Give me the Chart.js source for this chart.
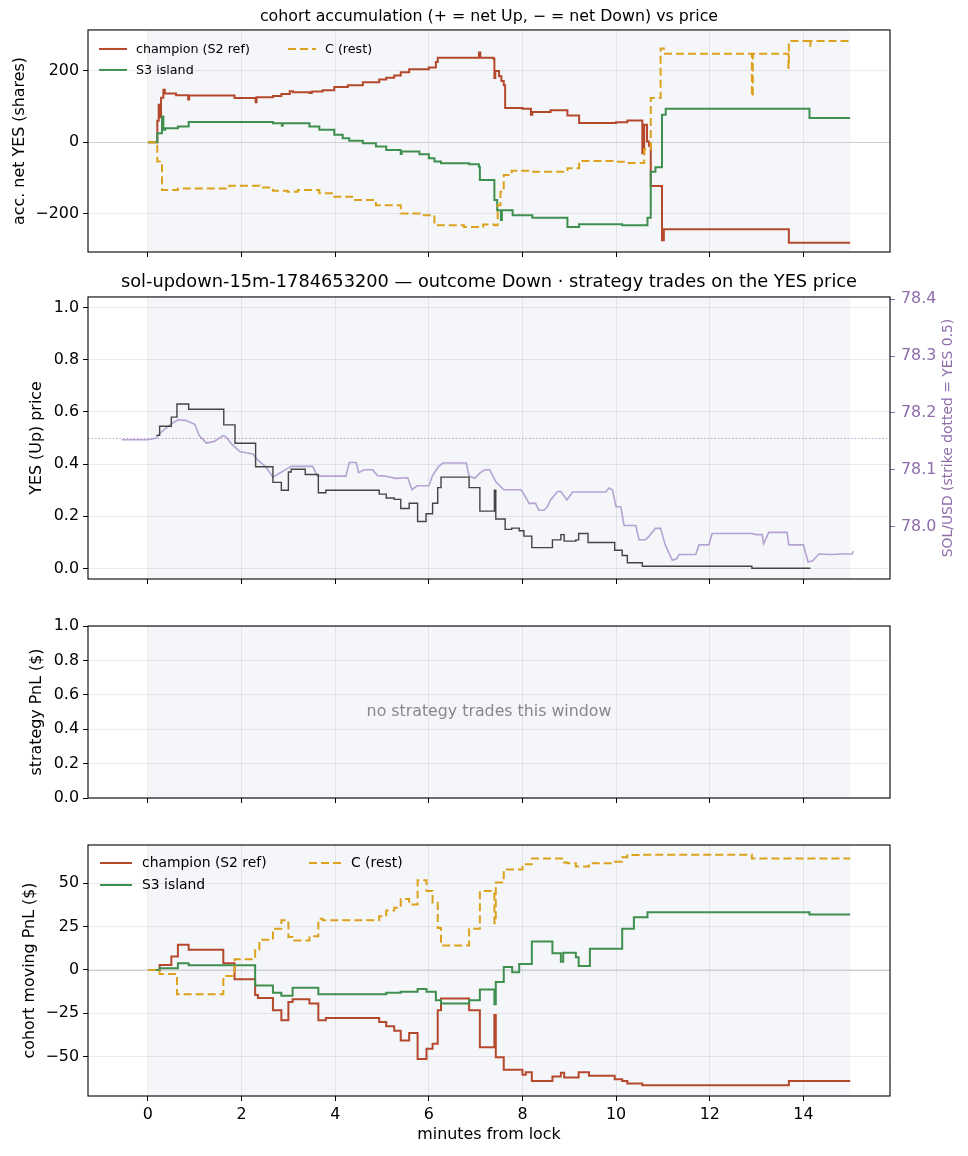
<!DOCTYPE html>
<html>
<head>
<meta charset="utf-8">
<script src="https://cdn.jsdelivr.net/npm/chart.js@4.4.1/dist/chart.umd.min.js"></script>
<style>
html, body { margin: 0; padding: 0; background: #fff; }
#fig { position: relative; width: 968px; height: 1156px; }
#fig canvas { position: absolute; left: 0; }
</style>
</head>
<body>
<div id="fig">
  <canvas id="acc" width="968" height="274" style="top:0px"></canvas>
  <canvas id="price" width="968" height="339" style="top:262px"></canvas>
  <canvas id="strat" width="968" height="220" style="top:600px"></canvas>
  <canvas id="pnl" width="968" height="336" style="top:820px"></canvas>
</div>
<script>
// ---- data (minutes from lock, value) ----
const xTicks = [0, 2, 4, 6, 8, 10, 12, 14];
const accTicks = [-200, 0, 200];
const yesTicks = [0, 0.2, 0.4, 0.6, 0.8, 1.0];
const solTicks = [78.0, 78.1, 78.2, 78.3, 78.4];
const stratTicks = [0, 0.2, 0.4, 0.6, 0.8, 1.0];
const pnlTicks = [-50, -25, 0, 25, 50];
const cohortLabels = ['champion (S2 ref)', 'S3 island', 'C (rest)'];
const windowSpan = [0, 15];
const STRIKE = 78.156;

const champAcc = [[0,0],[0.18,0],[0.2,60],[0.23,105],[0.26,70],[0.28,125],[0.33,147],[0.36,137],[0.6,132],[0.86,120],[0.88,131],
  [1.85,124],[2.3,112],[2.32,126],[2.67,130],[2.85,135],[3.03,143],[3.1,140],[3.45,138],[3.5,142],[3.73,146],[3.98,155],
  [4.27,160],[4.59,168],[4.94,176],[5.09,181],[5.26,187],[5.4,196],[5.58,205],[6.0,210],[6.15,225],[6.19,237],[7.05,237],
  [7.07,252],[7.1,237],[7.38,234],[7.4,180],[7.42,200],[7.5,185],[7.55,172],[7.6,160],[7.63,96],[8.0,94],[8.18,77],[8.21,85],
  [8.6,90],[8.96,75],[9.21,54],[10.0,56],[10.24,61],[10.56,-31],[10.6,49],[10.66,2],[10.7,-10],[10.74,-123],[10.98,-275],
  [11.02,-244],[13.69,-282],[15.0,-282]];
const s3Acc = [[0,0],[0.18,0],[0.2,25],[0.3,72],[0.33,35],[0.37,39],[0.64,44],[0.87,57],[2.67,53],[2.86,46],[2.88,53],
  [3.13,53],[3.45,44],[3.66,35],[3.98,21],[4.16,11],[4.3,4],[4.59,-3],[4.87,-12],[5.09,-22],[5.4,-33],[5.42,-26],[5.8,-34],
  [6.0,-45],[6.12,-54],[6.26,-59],[6.86,-62],[7.07,-69],[7.09,-106],[7.4,-162],[7.46,-191],[7.54,-218],[7.56,-191],[7.79,-205],
  [8.21,-212],[8.96,-238],[9.21,-230],[10.13,-233],[10.67,-212],[10.74,-83],[10.84,-70],[10.98,77],[11.06,94],[14.13,68],[15.0,68]];
const restAcc = [[0,0],[0.18,0],[0.2,-54],[0.3,-134],[0.64,-130],[1.74,-122],[2.38,-127],[2.67,-136],[2.98,-139],[3.2,-134],
  [3.66,-143],[3.93,-153],[4.36,-162],[4.87,-177],[5.4,-200],[5.8,-205],[6.12,-233],[6.75,-238],[7.16,-231],[7.4,-233],
  [7.47,-177],[7.53,-139],[7.6,-92],[7.77,-80],[8.18,-83],[8.96,-73],[9.21,-53],[10.0,-55],[10.24,-58],[10.6,-20],[10.74,124],
  [10.95,263],[11.02,248],[12.88,248],[12.9,129],[12.92,248],[13.68,209],[13.69,284],[14.13,270],[14.15,284],[15.0,284]];

const yesPrice = [[0.18,0.51],[0.25,0.545],[0.5,0.58],[0.62,0.63],[0.87,0.61],[1.62,0.55],[1.86,0.48],[2.3,0.39],[2.67,0.33],
  [2.85,0.30],[3.0,0.37],[3.06,0.38],[3.36,0.36],[3.64,0.29],[3.8,0.30],[4.94,0.285],[5.09,0.27],[5.26,0.265],[5.4,0.23],
  [5.58,0.25],[5.76,0.18],[5.94,0.21],[6.08,0.25],[6.19,0.31],[6.26,0.35],[6.86,0.31],[7.09,0.22],[7.4,0.30],[7.43,0.19],
  [7.63,0.15],[7.77,0.155],[7.93,0.145],[8.03,0.124],[8.2,0.08],[8.64,0.11],[8.82,0.13],[8.89,0.105],[9.14,0.11],[9.2,0.134],
  [9.4,0.10],[9.97,0.07],[10.13,0.05],[10.24,0.022],[10.56,0.009],[12.9,0.001],[14.15,0.001]];
const solPrice = [[-0.56,78.153],[0.0,78.153],[0.18,78.156],[0.25,78.164],[0.47,78.179],[0.64,78.188],[0.8,78.187],[1.0,78.18],
  [1.1,78.16],[1.25,78.147],[1.42,78.15],[1.6,78.16],[1.67,78.158],[1.78,78.146],[1.96,78.132],[2.24,78.128],[2.35,78.117],
  [2.52,78.105],[2.67,78.087],[2.93,78.1],[3.06,78.106],[3.52,78.106],[3.62,78.089],[4.23,78.089],[4.3,78.113],[4.45,78.113],
  [4.5,78.095],[4.62,78.1],[4.8,78.1],[4.9,78.09],[5.05,78.089],[5.3,78.085],[5.55,78.086],[5.64,78.065],[5.75,78.072],
  [6.0,78.072],[6.08,78.09],[6.2,78.105],[6.3,78.112],[6.8,78.112],[6.86,78.089],[6.98,78.085],[7.1,78.095],[7.2,78.1],
  [7.3,78.1],[7.43,78.079],[7.6,78.065],[7.97,78.065],[8.04,78.056],[8.14,78.041],[8.28,78.041],[8.35,78.029],[8.46,78.029],
  [8.53,78.035],[8.6,78.047],[8.75,78.062],[8.82,78.062],[8.95,78.047],[9.07,78.061],[9.78,78.061],[9.85,78.068],[9.92,78.065],
  [10.0,78.035],[10.1,78.035],[10.17,78.002],[10.42,78.002],[10.49,77.977],[10.63,77.977],[10.7,77.983],[10.84,77.997],
  [10.95,77.997],[11.05,77.968],[11.2,77.941],[11.3,77.944],[11.34,77.951],[11.7,77.951],[11.77,77.968],[11.98,77.968],
  [12.05,77.988],[12.9,77.988],[13.0,77.986],[13.12,77.986],[13.15,77.97],[13.26,77.99],[13.65,77.99],[13.69,77.968],
  [14.0,77.968],[14.1,77.938],[14.2,77.94],[14.33,77.952],[14.6,77.951],[14.8,77.952],[15.04,77.952],[15.07,77.957]];

const champPnl = [[0,0],[0.25,2.9],[0.5,7.8],[0.64,14.5],[0.87,11.6],[1.61,3.9],[1.85,-5.4],[2.29,-14.5],[2.35,-16.1],
  [2.67,-23.3],[2.85,-29],[3.0,-18.4],[3.09,-16.9],[3.45,-19.4],[3.64,-29],[3.8,-27.7],[4.94,-30],[5.09,-32.4],[5.26,-35],
  [5.4,-40.7],[5.58,-36.4],[5.76,-51.4],[5.95,-45.5],[6.08,-42.6],[6.19,-23.3],[6.26,-16.5],[6.86,-23.3],[7.09,-44.6],
  [7.4,-26],[7.43,-50.4],[7.6,-57.6],[8.0,-60.5],[8.07,-59],[8.2,-64],[8.64,-61.4],[8.82,-59.3],[8.89,-62],[9.2,-59],
  [9.42,-61],[9.97,-63],[10.13,-64],[10.24,-65.5],[10.56,-66.5],[13.69,-64],[15.0,-64]];
const s3Pnl = [[0,0],[0.25,1],[0.64,3.9],[0.87,2.7],[2.29,-8.9],[2.67,-13.2],[2.85,-14.9],[3.09,-10.3],[3.64,-14],
  [5.09,-13.2],[5.4,-12.6],[5.76,-11],[5.95,-12.6],[6.15,-17.4],[6.26,-19.4],[6.86,-17.4],[7.09,-11.2],[7.4,-19.8],
  [7.43,-7],[7.6,1.7],[7.78,-1.3],[7.93,3.5],[8.2,16.5],[8.64,9.7],[8.82,4.8],[8.87,10],[9.14,7.4],[9.2,2.3],[9.44,12.2],
  [10.13,23.8],[10.38,30.4],[10.67,33.3],[14.13,32],[15.0,32]];
const restPnl = [[0,0],[0.25,-2.3],[0.62,-14],[1.61,-3.5],[1.85,6.2],[2.29,11.6],[2.38,17.4],[2.67,23.8],[2.85,28.7],
  [3.0,19],[3.09,17],[3.45,19.4],[3.64,29.5],[3.73,28.7],[4.94,31],[5.09,34.3],[5.26,35.9],[5.4,41],[5.58,37.8],
  [5.76,51.7],[5.95,45.5],[6.08,38.8],[6.19,24.2],[6.26,14.1],[6.86,23.8],[7.09,45.5],[7.4,27],[7.43,50.4],[7.6,58],
  [8.0,60],[8.07,61],[8.2,64.3],[8.89,62],[8.96,61.6],[9.14,59.7],[9.42,61.6],[9.97,62.4],[10.13,65],[10.24,66.3],
  [10.56,66.5],[12.9,64.3],[15.0,64.3]];

// ---- style ----
const FONT = '"DejaVu Sans", sans-serif';
const FS = 15.9;
const RED = '#b5482b', GREEN = '#3f8f4f', GOLD = '#dca11d';
const PURPLE = '#8e6dab';
const GRID = 'rgba(0,0,0,0.075)';
const SHADE = '#f4f6fa';
Chart.defaults.font.family = FONT;
Chart.defaults.font.size = FS;
Chart.defaults.color = '#000';
Chart.defaults.animation = false;

const pts = arr => arr.map(([x, y]) => ({x, y}));
const minus = v => (v < 0 ? '\u2212' + Math.abs(v) : String(v));

// shaded window, reference lines, frame, inset legend, notes
const decor = {
  id: 'decor',
  beforeDraw(chart, args, o) {
    const {ctx, chartArea: a, scales} = chart;
    const x0 = Math.max(a.left, scales.x.getPixelForValue(o.shade[0]));
    const x1 = Math.min(a.right, scales.x.getPixelForValue(o.shade[1]));
    ctx.save();
    ctx.fillStyle = SHADE;
    ctx.fillRect(x0, a.top, x1 - x0, a.bottom - a.top);
    ctx.restore();
  },
  beforeDatasetsDraw(chart, args, o) {
    const {ctx, chartArea: a, scales} = chart;
    ctx.save();
    if (o.zero) {
      const y = Math.round(scales.y.getPixelForValue(0)) + 0.5;
      ctx.strokeStyle = '#cfcfcf'; ctx.lineWidth = 1;
      ctx.beginPath(); ctx.moveTo(a.left, y); ctx.lineTo(a.right, y); ctx.stroke();
    }
    if (o.strike) {
      const y = Math.round(scales.y1.getPixelForValue(o.strike)) + 0.5;
      ctx.strokeStyle = 'rgba(142,109,171,0.6)'; ctx.lineWidth = 1; ctx.setLineDash([1.5, 2]);
      ctx.beginPath(); ctx.moveTo(a.left, y); ctx.lineTo(a.right, y); ctx.stroke();
    }
    ctx.restore();
  },
  afterDraw(chart, args, o) {
    const {ctx, chartArea: a} = chart;
    ctx.save();
    ctx.strokeStyle = '#000'; ctx.lineWidth = 1.1;
    ctx.strokeRect(a.left, a.top, a.right - a.left, a.bottom - a.top);
    if (o.note) {
      ctx.fillStyle = '#888'; ctx.font = '15.8px ' + FONT;
      ctx.textAlign = 'center'; ctx.textBaseline = 'middle';
      ctx.fillText(o.note, (a.left + a.right) / 2, (a.top + a.bottom) / 2);
    }
    if (o.rightTitle) {
      ctx.fillStyle = PURPLE; ctx.font = '13.9px ' + FONT;
      ctx.textAlign = 'center'; ctx.textBaseline = 'middle';
      ctx.translate(o.rightTitleX, (a.top + a.bottom) / 2);
      ctx.rotate(-Math.PI / 2);
      ctx.fillText(o.rightTitle, 0, 0);
      ctx.setTransform(1, 0, 0, 1, 0, 0);
    }
    if (o.legend) {
      const L = o.legend;
      ctx.font = L.size + 'px ' + FONT;
      ctx.textBaseline = 'middle'; ctx.textAlign = 'left';
      chart.data.datasets.forEach((ds, i) => {
        const col = Math.floor(i / 2), row = i % 2;
        const x = a.left + L.x + col * L.colW;
        const y = a.top + L.y + row * L.rowH;
        ctx.strokeStyle = ds.borderColor; ctx.lineWidth = ds.borderWidth;
        ctx.setLineDash(ds.borderDash || []);
        ctx.beginPath(); ctx.moveTo(x, y); ctx.lineTo(x + L.len, y); ctx.stroke();
        ctx.setLineDash([]);
        ctx.fillStyle = '#000';
        ctx.fillText(ds.label, x + L.textOff, y + 0.5);
      });
    }
    ctx.restore();
  }
};

function xScale(height, labels) {
  return {
    type: 'linear', min: -1.28, max: 15.85,
    afterBuildTicks: s => { s.ticks = xTicks.map(v => ({value: v})); },
    afterFit: s => { s.height = height; },
    grid: {color: GRID, tickColor: '#000', tickLength: 5},
    border: {display: false},
    ticks: {display: labels, padding: 4, maxRotation: 0, autoSkip: false},
    title: {display: labels, text: 'minutes from lock', padding: {top: 0, bottom: 11.5}}
  };
}
function yScale(min, max, ticks, fmt, title, titleX) {
  return {
    type: 'linear', position: 'left', min, max,
    afterBuildTicks: s => { s.ticks = ticks.map(v => ({value: v})); },
    afterFit: s => { s.width = 88; },
    grid: {color: GRID, tickColor: '#000', tickLength: 5},
    border: {display: false},
    ticks: {padding: 4, autoSkip: false, callback: fmt},
    title: {display: true, text: title, padding: {top: titleX - FS * 0.6, bottom: 0}}
  };
}
function cohortSets(c, s, r) {
  const base = {stepped: true, pointRadius: 0, borderWidth: 2, fill: false};
  return [
    Object.assign({label: cohortLabels[0], data: pts(c), borderColor: RED, order: 3}, base),
    Object.assign({label: cohortLabels[1], data: pts(s), borderColor: GREEN, order: 2}, base),
    Object.assign({label: cohortLabels[2], data: pts(r), borderColor: GOLD, borderDash: [8, 4], order: 1}, base)
  ];
}

// panel 1: cohort accumulation
new Chart(document.getElementById('acc'), {
  type: 'line',
  data: {datasets: cohortSets(champAcc, s3Acc, restAcc)},
  options: {
    responsive: false,
    layout: {padding: {left: 0, right: 78, top: 0, bottom: 0}},
    scales: {x: xScale(22, false), y: yScale(-308, 315, accTicks, minus, 'acc. net YES (shares)', 20)},
    plugins: {
      legend: {display: false}, tooltip: {enabled: false},
      title: {display: true, fullSize: false, text: 'cohort accumulation (+ = net Up, \u2212 = net Down) vs price',
        font: {size: 15.8, weight: 'normal'}, padding: {top: 7.5, bottom: 3.5}},
      decor: {shade: windowSpan, zero: true,
        legend: {size: 12.7, x: 11, y: 19, rowH: 21, colW: 189, len: 28, textOff: 37}}
    }
  },
  plugins: [decor]
});

// panel 2: YES price + SOL/USD
new Chart(document.getElementById('price'), {
  type: 'line',
  data: {datasets: [
    {label: 'YES', data: pts(yesPrice), yAxisID: 'y', stepped: true, pointRadius: 0, borderWidth: 1.4, borderColor: '#444', order: 1},
    {label: 'SOL/USD', data: pts(solPrice), yAxisID: 'y1', pointRadius: 0, borderWidth: 1.6, borderColor: 'rgba(160,135,198,0.75)', order: 2}
  ]},
  options: {
    responsive: false,
    layout: {padding: {left: 0, right: 0, top: 0, bottom: 0}},
    scales: {
      x: xScale(22, false),
      y: yScale(-0.04, 1.04, yesTicks, v => v.toFixed(1), 'YES (Up) price', 37),
      y1: {
        type: 'linear', position: 'right', min: 77.908, max: 78.404,
        afterBuildTicks: s => { s.ticks = solTicks.map(v => ({value: v})); },
        afterFit: s => { s.width = 78; },
        grid: {display: true, drawOnChartArea: false, tickColor: PURPLE, tickLength: 5},
        border: {display: false},
        ticks: {color: PURPLE, padding: 6, autoSkip: false, callback: v => v.toFixed(1)}
      }
    },
    plugins: {
      legend: {display: false}, tooltip: {enabled: false},
      title: {display: true, fullSize: false, text: 'sol-updown-15m-1784653200 \u2014 outcome Down \u00b7 strategy trades on the YES price',
        font: {size: 17.8, weight: 'normal'}, padding: {top: 9.3, bottom: 4.3}},
      decor: {shade: windowSpan, strike: STRIKE, rightTitle: 'SOL/USD (strike dotted = YES 0.5)', rightTitleX: 948}
    }
  },
  plugins: [decor]
});

// panel 3: strategy PnL (empty)
new Chart(document.getElementById('strat'), {
  type: 'line',
  data: {datasets: []},
  options: {
    responsive: false,
    layout: {padding: {left: 0, right: 78, top: 26, bottom: 0}},
    scales: {x: xScale(22, false), y: yScale(0, 1, stratTicks, v => v.toFixed(1), 'strategy PnL ($)', 37)},
    plugins: {
      legend: {display: false}, tooltip: {enabled: false},
      decor: {shade: windowSpan, note: 'no strategy trades this window'}
    }
  },
  plugins: [decor]
});

// panel 4: cohort moving PnL
new Chart(document.getElementById('pnl'), {
  type: 'line',
  data: {datasets: cohortSets(champPnl, s3Pnl, restPnl)},
  options: {
    responsive: false,
    layout: {padding: {left: 0, right: 78, top: 25, bottom: 0}},
    scales: {x: xScale(60, true), y: yScale(-72.7, 72.1, pnlTicks, minus, 'cohort moving PnL ($)', 30)},
    plugins: {
      legend: {display: false}, tooltip: {enabled: false},
      decor: {shade: windowSpan, zero: true,
        legend: {size: 13.9, x: 12, y: 18, rowH: 22, colW: 209, len: 32, textOff: 42}}
    }
  },
  plugins: [decor]
});
</script>
</body>
</html>
